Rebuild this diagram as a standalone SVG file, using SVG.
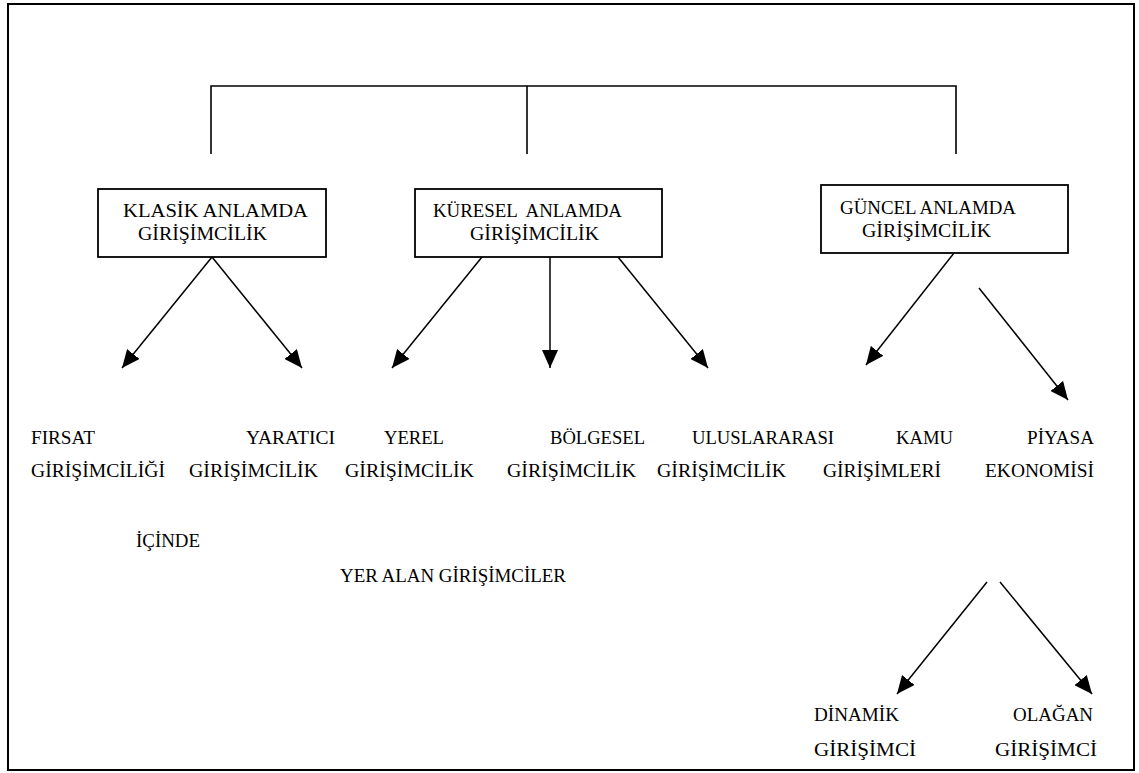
<svg xmlns="http://www.w3.org/2000/svg" width="1139" height="773" viewBox="0 0 1139 773">
<defs>
<marker id="ah" markerUnits="userSpaceOnUse" markerWidth="20" markerHeight="16" refX="18" refY="8" orient="auto">
<path d="M0,0 L18,8 L0,16 Z" fill="#000"/>
</marker>
<style>
text{font-family:"Liberation Serif","Times New Roman",serif;font-size:18.67px;fill:#000;white-space:pre}
.box{fill:#fff;stroke:#000;stroke-width:1.8}
.ln{fill:none;stroke:#000;stroke-width:1.6}
.ar{fill:none;stroke:#000;stroke-width:1.5;marker-end:url(#ah)}
</style>
</defs>
<rect x="8" y="4" width="1126" height="766" fill="#fff" stroke="#000" stroke-width="2"/>
<g id="connectors">
<path class="ln" d="M211,154 V86 H956 V154"/>
<path class="ln" d="M527,86 V154"/>
<line class="ar" x1="212" y1="257" x2="122" y2="368"/>
<line class="ar" x1="212" y1="257" x2="302" y2="368"/>
<line class="ar" x1="482" y1="257" x2="392" y2="368"/>
<line class="ar" x1="550" y1="257" x2="550" y2="368"/>
<line class="ar" x1="618" y1="257" x2="708" y2="368"/>
<line class="ar" x1="954" y1="253" x2="866" y2="365"/>
<line class="ar" x1="979" y1="288" x2="1068" y2="400"/>
<line class="ar" x1="987" y1="582" x2="897" y2="694"/>
<line class="ar" x1="1000" y1="582" x2="1092" y2="694"/>
</g>
<g font-family="Liberation Serif, Times New Roman, serif" lengthAdjust="spacingAndGlyphs">
<g id="klasik">
<rect class="box" x="98" y="189" width="228" height="68"/>
<text x="123" y="217" textLength="185" lengthAdjust="spacingAndGlyphs">KLASİK ANLAMDA</text>
<text x="138" y="240" textLength="129" lengthAdjust="spacingAndGlyphs">GİRİŞİMCİLİK</text>
</g>
<g id="kuresel">
<rect class="box" x="415" y="189" width="247" height="68"/>
<text x="433" y="217" textLength="189" lengthAdjust="spacingAndGlyphs">KÜRESEL  ANLAMDA</text>
<text x="470" y="240" textLength="129" lengthAdjust="spacingAndGlyphs">GİRİŞİMCİLİK</text>
</g>
<g id="guncel">
<rect class="box" x="821" y="185" width="247" height="68"/>
<text x="840" y="214" textLength="176" lengthAdjust="spacingAndGlyphs">GÜNCEL ANLAMDA</text>
<text x="862" y="237" textLength="129" lengthAdjust="spacingAndGlyphs">GİRİŞİMCİLİK</text>
</g>
<g id="firsat"><text x="31" y="444" textLength="64" lengthAdjust="spacingAndGlyphs">FIRSAT</text><text x="31" y="477" textLength="134" lengthAdjust="spacingAndGlyphs">GİRİŞİMCİLİĞİ</text></g>
<g id="yaratici"><text x="246" y="444" textLength="89" lengthAdjust="spacingAndGlyphs">YARATICI</text><text x="189" y="477" textLength="129" lengthAdjust="spacingAndGlyphs">GİRİŞİMCİLİK</text></g>
<g id="yerel"><text x="384" y="444" textLength="60" lengthAdjust="spacingAndGlyphs">YEREL</text><text x="345" y="477" textLength="129" lengthAdjust="spacingAndGlyphs">GİRİŞİMCİLİK</text></g>
<g id="bolgesel"><text x="550" y="444" textLength="95" lengthAdjust="spacingAndGlyphs">BÖLGESEL</text><text x="507" y="477" textLength="129" lengthAdjust="spacingAndGlyphs">GİRİŞİMCİLİK</text></g>
<g id="uluslararasi"><text x="692" y="444" textLength="142" lengthAdjust="spacingAndGlyphs">ULUSLARARASI</text><text x="657" y="477" textLength="129" lengthAdjust="spacingAndGlyphs">GİRİŞİMCİLİK</text></g>
<g id="kamu"><text x="896" y="444" textLength="57" lengthAdjust="spacingAndGlyphs">KAMU</text><text x="823" y="477" textLength="118" lengthAdjust="spacingAndGlyphs">GİRİŞİMLERİ</text></g>
<g id="piyasa"><text x="1027" y="444" textLength="67" lengthAdjust="spacingAndGlyphs">PİYASA</text><text x="985" y="477" textLength="109" lengthAdjust="spacingAndGlyphs">EKONOMİSİ</text></g>
<g id="icinde"><text x="136" y="547" textLength="64" lengthAdjust="spacingAndGlyphs">İÇİNDE</text><text x="340" y="582" textLength="226" lengthAdjust="spacingAndGlyphs">YER ALAN GİRİŞİMCİLER</text></g>
<g id="dinamik"><text x="814" y="721" textLength="85" lengthAdjust="spacingAndGlyphs">DİNAMİK</text><text x="814" y="756" textLength="102" lengthAdjust="spacingAndGlyphs">GİRİŞİMCİ</text></g>
<g id="olagan"><text x="1013" y="721" textLength="80" lengthAdjust="spacingAndGlyphs">OLAĞAN</text><text x="995" y="756" textLength="102" lengthAdjust="spacingAndGlyphs">GİRİŞİMCİ</text></g>
</g>
</svg>
